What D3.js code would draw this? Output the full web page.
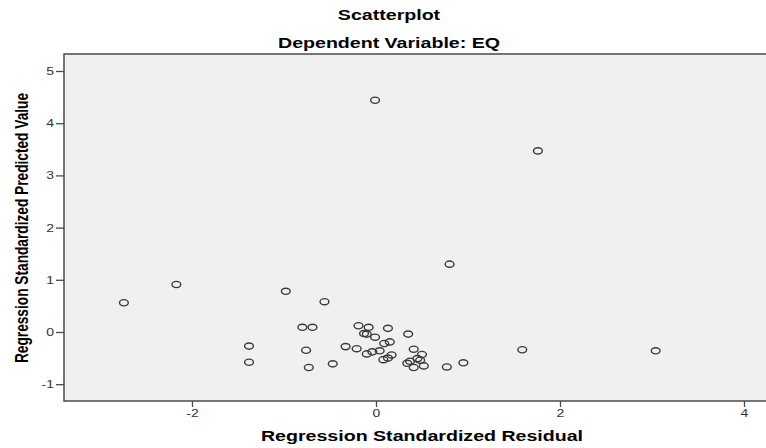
<!DOCTYPE html>
<html>
<head>
<meta charset="utf-8">
<script src="https://cdn.jsdelivr.net/npm/d3@7"></script>
<style>
  body { margin: 0; background: #fff; }
  text { font-family: "Liberation Sans", Arial, sans-serif; }
</style>
</head>
<body>
<svg id="chart"></svg>
<script>
const WIDTH = 766;
const HEIGHT = 448;
const SX = 1.4; // the source picture is stretched sideways

// residuals (x) and predicted values (y)
const residual = [
  -2.74, -2.17, -0.98, -0.56, -0.80, -0.69, -1.38, -0.76, -1.38, -0.73, -0.47,
  -0.19, -0.08, 0.13, -0.13, -0.10, -0.01, 0.35, 0.09, 0.15, -0.33, -0.21,
  -0.10, -0.04, 0.04, 0.17, 0.08, 0.13, 0.41, 0.50, 0.34, 0.37, 0.45, 0.48,
  0.41, 0.52, 0.77, 0.95, 1.76, 0.80, 1.59, 3.04, -0.01
];
const predicted = [
  0.56, 0.91, 0.78, 0.58, 0.09, 0.09, -0.27, -0.35, -0.58, -0.68, -0.61,
  0.12, 0.09, 0.07, -0.03, -0.04, -0.10, -0.04, -0.22, -0.19, -0.28, -0.32,
  -0.42, -0.38, -0.36, -0.44, -0.53, -0.50, -0.33, -0.43, -0.60, -0.56, -0.51, -0.54,
  -0.68, -0.65, -0.67, -0.59, 3.47, 1.30, -0.34, -0.36, 4.44
];
const xTicks = [-2, 0, 2, 4];
const yTicks = [-1, 0, 1, 2, 3, 4, 5];

const svg = d3.select("#chart")
  .attr("width", WIDTH)
  .attr("height", HEIGHT);

const plotLeft = 64, plotRight = 775, plotTop = 54, plotBottom = 401;

const x = d3.scaleLinear().domain([-3.391, 4.337]).range([plotLeft, plotRight]);
const y = d3.scaleLinear().domain([-1.322, 5.326]).range([plotBottom, plotTop]);

// plot area
svg.append("rect")
  .attr("x", plotLeft)
  .attr("y", plotTop)
  .attr("width", plotRight - plotLeft)
  .attr("height", plotBottom - plotTop)
  .attr("fill", "#f0f0f0")
  .attr("stroke", "#4a4a4a")
  .attr("stroke-width", 1.5);

// stretched text helper
function label(g, tx, ty, str, size, bold, anchor) {
  return g.append("text")
    .attr("transform", `translate(${tx},${ty}) scale(${SX},1)`)
    .attr("text-anchor", anchor || "middle")
    .attr("font-size", size)
    .attr("font-weight", bold ? "bold" : "normal")
    .attr("fill", bold ? "#000" : "#333")
    .text(str);
}

// axes (plain hyphen for negatives, like the source)
const fmt = d => String(d);

const yAxis = svg.append("g")
  .attr("transform", `translate(${plotLeft},0)`)
  .call(d3.axisLeft(y).tickValues(yTicks).tickSize(8).tickFormat(fmt));
yAxis.select(".domain").remove();
yAxis.selectAll(".tick line").attr("stroke", "#4a4a4a").attr("stroke-width", 1.3);
yAxis.selectAll(".tick text").remove();
yAxis.selectAll(".tick").each(function (d) {
  label(d3.select(this), -10, 3.5, fmt(d), 10, false, "end");
});

const xAxis = svg.append("g")
  .attr("transform", `translate(0,${plotBottom})`)
  .call(d3.axisBottom(x).tickValues(xTicks).tickSize(6).tickFormat(fmt));
xAxis.select(".domain").remove();
xAxis.selectAll(".tick line").attr("stroke", "#4a4a4a").attr("stroke-width", 1.3);
xAxis.selectAll(".tick text").remove();
xAxis.selectAll(".tick").each(function (d) {
  label(d3.select(this), 0, 16, fmt(d), 10, false, "middle");
});

// points
svg.append("g")
  .selectAll("ellipse")
  .data(residual.map((r, i) => [r, predicted[i]]))
  .join("ellipse")
  .attr("cx", d => x(d[0]))
  .attr("cy", d => y(d[1]))
  .attr("rx", 4.4)
  .attr("ry", 3.1)
  .attr("fill", "none")
  .attr("stroke", "#3a3a3a")
  .attr("stroke-width", 1.4);

// titles
label(svg, 389, 20, "Scatterplot", 14, true);
label(svg, 389, 48, "Dependent Variable: EQ", 14, true);
label(svg, 422, 441, "Regression Standardized Residual", 14, true);

svg.append("text")
  .attr("transform", "translate(28,228) rotate(-90) scale(1,1.4)")
  .attr("text-anchor", "middle")
  .attr("font-size", 13.7)
  .attr("font-weight", "bold")
  .text("Regression Standardized Predicted Value");
</script>
</body>
</html>
